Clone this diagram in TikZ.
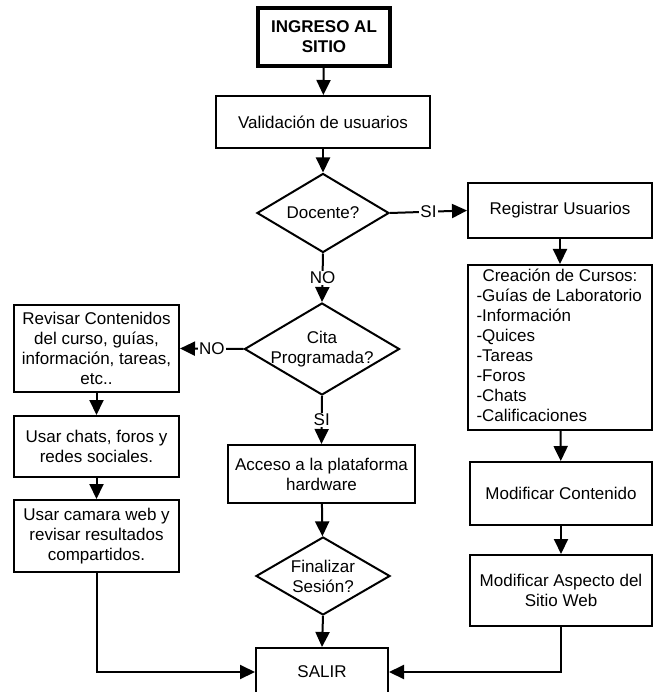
\documentclass[tikz,border=0pt]{standalone}
\usepackage{fontspec}
\setmainfont{Liberation Sans}
\usetikzlibrary{arrows.meta,shapes.geometric}

\begin{document}
\begin{tikzpicture}[
    x=1pt, y=-1pt,
    font=\fontsize{17}{20}\selectfont,
    box/.style={draw, line width=2pt, align=center, inner sep=2pt},
    startbox/.style={box, line width=3.6pt, font=\fontsize{17}{20}\selectfont\bfseries},
    decision/.style={draw, diamond, line width=2pt, inner sep=0pt},
    cond/.style={fill=white, inner sep=1pt},
    flow/.style={-{Triangle[length=15pt,width=14pt]}, line width=2pt},
]
\useasboundingbox (0,0) rectangle (654,692);

% ---- Central column -----------------------------------------------------------
\node[startbox, minimum width=132pt, minimum height=58pt] (ingreso) at (324,37) {INGRESO AL\\SITIO};
\node[box, minimum width=214pt, minimum height=52pt] (valid) at (323,122) {Validación de usuarios};
\node[decision, minimum width=132pt, minimum height=79pt] (docente) at (323,213) {};
\node at (docente) {Docente?};
\node[decision, minimum width=155pt, minimum height=92pt] (cita) at (322,349) {};
\node[align=center] at (cita) {Cita\\Programada?};
\node[box, minimum width=187pt, minimum height=58pt] (acceso) at (321.5,474) {Acceso a la plataforma\\hardware};
\node[decision, minimum width=134pt, minimum height=78pt] (final) at (323,576) {};
\node[align=center] at (final) {Finalizar\\Sesión?};
\node[box, minimum width=132pt, minimum height=48pt] (salir) at (322,672) {SALIR};

% ---- Right column (docente) ---------------------------------------------------
\node[box, minimum width=184pt, minimum height=55pt] (registrar) at (560,210.5) {Registrar Usuarios};
\node[box, minimum width=184pt, minimum height=165pt, inner sep=1pt, font=\fontsize{17}{19.9}\selectfont] (cursos) at (560,347.5)
  {\begin{tabular}{@{}l@{}}\multicolumn{1}{c}{Creación de Cursos:}\\-Guías de Laboratorio\\-Información\\-Quices\\-Tareas\\-Foros\\-Chats\\-Calificaciones\end{tabular}};
\node[box, minimum width=182pt, minimum height=63pt] (modcont) at (561,493.5) {Modificar Contenido};
\node[box, minimum width=182pt, minimum height=71pt] (modasp) at (561,590.5) {Modificar Aspecto del\\Sitio Web};

% ---- Left column (sin cita) ---------------------------------------------------
\node[box, minimum width=165pt, minimum height=87pt] (revisar) at (96.5,348.5) {Revisar Contenidos\\del curso, guías,\\información, tareas,\\etc..};
\node[box, minimum width=165pt, minimum height=61pt] (chats) at (96.5,446.5) {Usar chats, foros y\\redes sociales.};
\node[box, minimum width=165pt, minimum height=72pt] (camara) at (96.5,536) {Usar camara web y\\revisar resultados\\compartidos.};

% ---- Connectors ---------------------------------------------------------------
\draw[flow] (ingreso) -- (valid);
\draw[flow] (valid) -- (docente);
\draw[flow] (docente.east) -- node[cond] {SI} (registrar.west);
\draw[flow] (docente.south) -- node[cond] {NO} (cita.north);
\draw[flow] (cita.west) -- node[cond] {NO} (revisar.east);
\draw[flow] (cita.south) -- node[cond] {SI} (acceso.north);
\draw[flow] (acceso) -- (final);
\draw[flow] (final.south) -- (salir.north);
\draw[flow] (registrar) -- (cursos);
\draw[flow] (cursos) -- (modcont);
\draw[flow] (modcont) -- (modasp);
\draw[flow] (revisar) -- (chats);
\draw[flow] (chats) -- (camara);
\draw[flow] (camara.south) |- (salir.west);
\draw[flow] (modasp.south) |- (salir.east);

\end{tikzpicture}
\end{document}
